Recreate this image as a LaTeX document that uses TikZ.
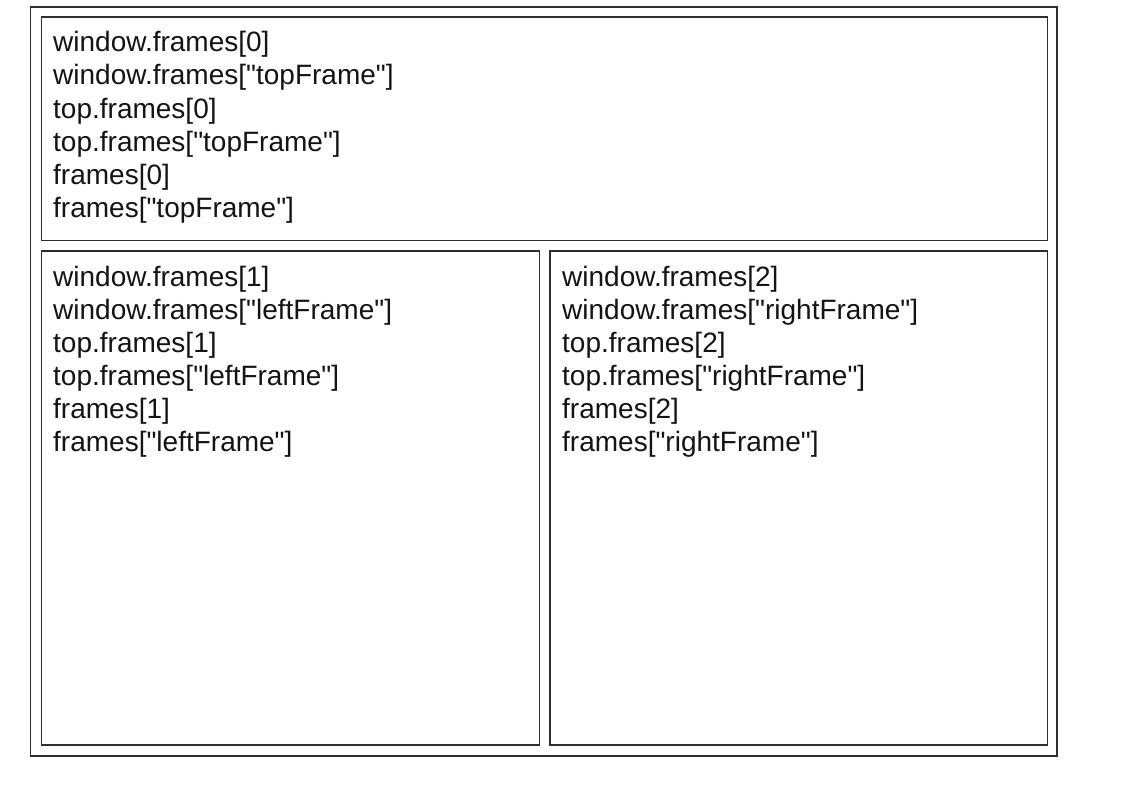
\documentclass[tikz,border=0pt]{standalone}
\usepackage{fontspec}
\setmainfont{Liberation Sans}[Ligatures=TeXOff]
\begin{document}
\begin{tikzpicture}[x=1bp,y=-1bp,
  frame/.style={draw=black!82,line width=1.9bp},
  txt/.style={anchor=base west,inner sep=0pt,font=\fontsize{28bp}{33bp}\selectfont,text=black!92}]
\useasboundingbox (0,0) rectangle (1142,786);
\fill[white] (0,0) rectangle (1142,786);
\draw[frame] (30.5,7) rectangle (1057,756);
\draw[frame] (41.5,17) rectangle (1047.5,240.5);
\draw[frame] (41.5,251) rectangle (539.5,745);
\draw[frame] (550,251) rectangle (1047.5,745);
\foreach \t [count=\i] in {window.frames[0],window.frames["topFrame"],top.frames[0],top.frames["topFrame"],frames[0],frames["topFrame"]}
  \node[txt] (top\i) at (53,{52+33*(\i-1)}) {\t};
\foreach \t [count=\i] in {window.frames[1],window.frames["leftFrame"],top.frames[1],top.frames["leftFrame"],frames[1],frames["leftFrame"]}
  \node[txt] (left\i) at (53,{286+33*(\i-1)}) {\t};
\foreach \t [count=\i] in {window.frames[2],window.frames["rightFrame"],top.frames[2],top.frames["rightFrame"],frames[2],frames["rightFrame"]}
  \node[txt] (right\i) at (562,{286+33*(\i-1)}) {\t};
\end{tikzpicture}
\end{document}
